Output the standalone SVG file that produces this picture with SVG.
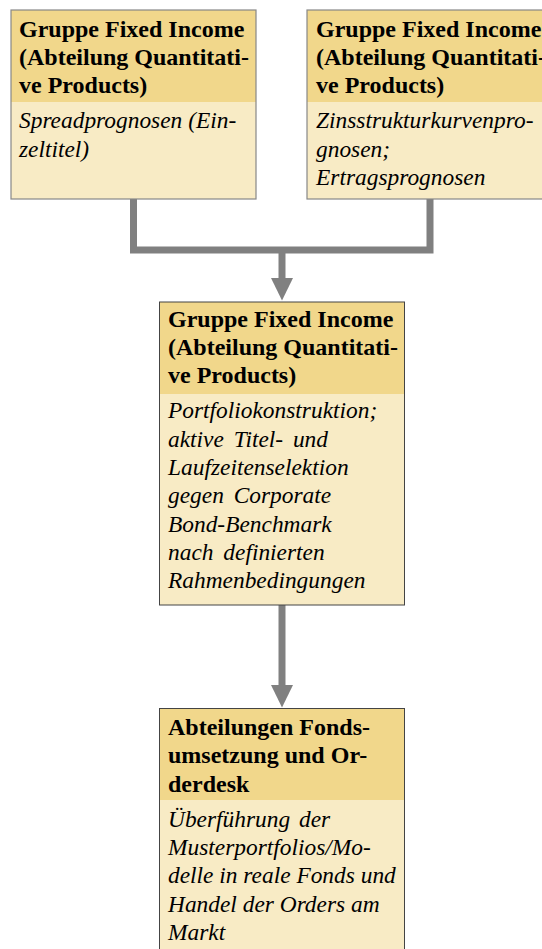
<svg xmlns="http://www.w3.org/2000/svg" width="542" height="949" viewBox="0 0 542 949">
<style>
.hd{fill:#f1d78b}
.bd{fill:#f8ebc5}
.fr{fill:none;stroke:#444;stroke-width:1}
.fr2{fill:none;stroke:#888;stroke-width:1.2}
.h{font-family:"Liberation Serif","Times New Roman",serif;font-weight:bold;font-size:24px;fill:#000}
.b{font-family:"Liberation Serif","Times New Roman",serif;font-style:italic;font-size:23.4px;fill:#000}
.c{fill:none;stroke:#808080;stroke-width:7}
.ah{fill:#808080}
</style>
<rect width="542" height="949" fill="#fff"/>
<g id="connectors">
<path class="c" d="M133.5,199 V250 H430 V199"/>
<path class="c" d="M282,250 V279"/>
<polygon class="ah" points="271,278 293,278 282,300.5"/>
<path class="c" d="M282,605 V686"/>
<polygon class="ah" points="271,685 293,685 282,707.5"/>
</g>
<g id="node1">
<rect class="hd" x="11" y="10" width="245" height="92"/>
<rect class="bd" x="11" y="102" width="245" height="97"/>
<rect class="fr2" x="11" y="10" width="245" height="189"/>
<text class="h" x="19" y="36.7">Gruppe Fixed Income</text>
<text class="h" x="19" y="65">(Abteilung Quantitati-</text>
<text class="h" x="19" y="93.3">ve Products)</text>
<text class="b" x="19" y="128.3">Spreadprognosen (Ein-</text>
<text class="b" x="19" y="156.7">zeltitel)</text>
</g>
<g id="node2">
<rect class="hd" x="307" y="10" width="245" height="92"/>
<rect class="bd" x="307" y="102" width="245" height="97"/>
<rect class="fr2" x="307" y="10" width="245" height="189"/>
<text class="h" x="316" y="36.7">Gruppe Fixed Income</text>
<text class="h" x="316" y="65">(Abteilung Quantitati-</text>
<text class="h" x="316" y="93.3">ve Products)</text>
<text class="b" x="316" y="128.3">Zinsstrukturkurvenpro-</text>
<text class="b" x="316" y="156.7">gnosen;</text>
<text class="b" x="316" y="185">Ertragsprognosen</text>
</g>
<g id="node3">
<rect class="hd" x="159.5" y="302" width="245" height="92"/>
<rect class="bd" x="159.5" y="394" width="245" height="211"/>
<rect class="fr" x="159.5" y="302" width="245" height="303"/>
<text class="h" x="168" y="326.7">Gruppe Fixed Income</text>
<text class="h" x="168" y="355">(Abteilung Quantitati-</text>
<text class="h" x="168" y="383.3">ve Products)</text>
<text class="b" x="168" y="418.3">Portfoliokonstruktion;</text>
<text class="b" x="168" y="446.7" word-spacing="4">aktive Titel- und</text>
<text class="b" x="168" y="475">Laufzeitenselektion</text>
<text class="b" x="168" y="503.3" word-spacing="4">gegen Corporate</text>
<text class="b" x="168" y="531.7">Bond-Benchmark</text>
<text class="b" x="168" y="560" word-spacing="4">nach definierten</text>
<text class="b" x="168" y="588.3">Rahmenbedingungen</text>
</g>
<g id="node4">
<rect class="hd" x="159.5" y="708.5" width="245" height="91.5"/>
<rect class="bd" x="159.5" y="800" width="245" height="150"/>
<rect class="fr" x="159.5" y="708.5" width="245" height="250"/>
<text class="h" x="168" y="735">Abteilungen Fonds-</text>
<text class="h" x="168" y="763.3">umsetzung und Or-</text>
<text class="h" x="168" y="791.7">derdesk</text>
<text class="b" x="168" y="826.7" word-spacing="3">Überführung der</text>
<text class="b" x="168" y="855">Musterportfolios/Mo-</text>
<text class="b" x="168" y="883.3">delle in reale Fonds und</text>
<text class="b" x="168" y="911.7">Handel der Orders am</text>
<text class="b" x="168" y="940">Markt</text>
</g>
</svg>
